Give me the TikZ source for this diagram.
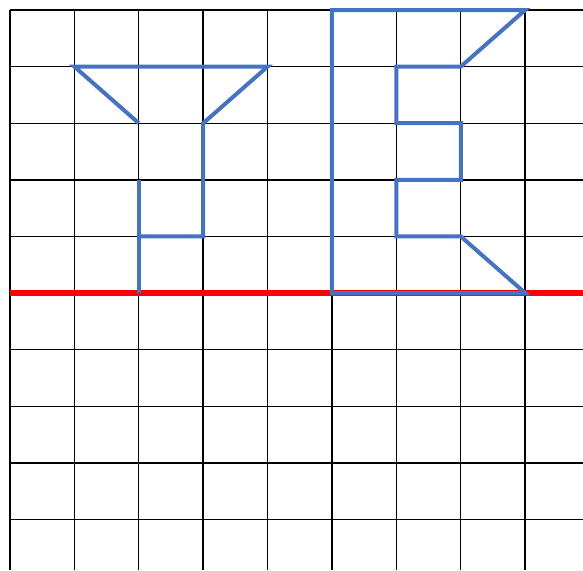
\documentclass[tikz,border=0pt]{standalone}
\usepackage{tikz}
\usetikzlibrary{positioning}
\definecolor{letterblue}{RGB}{68,114,196}
\definecolor{mirrorred}{RGB}{255,0,0}

\begin{document}
\begin{tikzpicture}[x=1.932cm, y=1.698cm, line join=miter]
  \useasboundingbox (-0.155,-4.894) rectangle (8.898,5.177);
  % grid
  \foreach \i in {0,...,8} \draw[line width=1.2pt] (\i,-4.894) -- (\i,5);
  \foreach \j in {-4,...,5} \draw[line width=1.2pt] (0,\j) -- (8.898,\j);
  % mirror line
  \draw[mirrorred, line width=4.5pt] (0,0) -- (8.898,0);
  % letter T
  \draw[letterblue, line width=3.4pt] (2,3) -- (1,4) -- (4,4) -- (3,3) -- (3,1) -- (2,1);
  \draw[letterblue, line width=3.4pt] (2,2) -- (2,0);
  % letter E
  \draw[letterblue, line width=3.4pt] (5,5) -- (8,5) -- (7,4) -- (6,4) -- (6,3) -- (7,3)
    -- (7,2) -- (6,2) -- (6,1) -- (7,1) -- (8,0) -- (5,0) -- cycle;
\end{tikzpicture}
\end{document}
